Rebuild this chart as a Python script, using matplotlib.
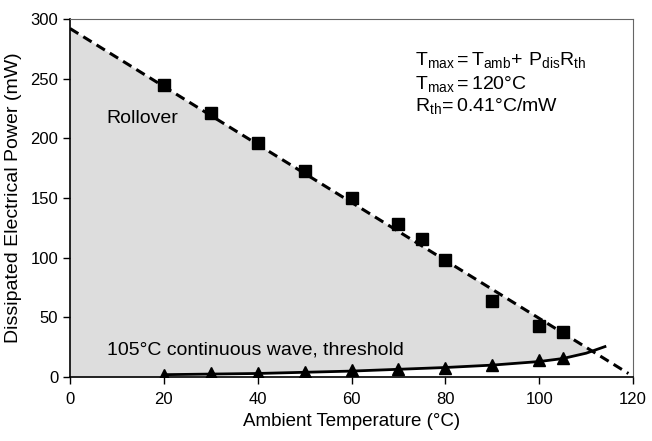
import numpy as np
import matplotlib
matplotlib.use("Agg")
import matplotlib.pyplot as plt

plt.rcParams['font.family'] = ['Liberation Sans', 'DejaVu Sans']
plt.rcParams['mathtext.fontset'] = 'custom'
plt.rcParams['mathtext.rm'] = 'Liberation Sans'
plt.rcParams['mathtext.it'] = 'Liberation Sans'

# Rollover points (squares)
roll_temp = [20, 30, 40, 50, 60, 70, 75, 80, 90, 100, 105]
roll_power = [245, 221, 196, 173, 150, 128, 116, 98, 64, 43, 38]

# Threshold points (triangles)
thr_temp = [20, 30, 40, 50, 60, 70, 80, 90, 100, 105]
thr_power = [2, 3, 3, 4, 6, 7, 8, 10, 14, 16]

# Threshold fitted curve
curve_temp = [20, 30, 40, 50, 60, 70, 80, 90, 100, 105, 110, 114]
curve_power = [2, 2.5, 3, 4, 5, 6.5, 8, 10, 13, 15.5, 20, 25.5]

# Rollover limit line (Tmax = Tamb + Pdis*Rth)
limit_temp = [0, 119]
limit_power = [292, 3]

x_ticks = [0, 20, 40, 60, 80, 100, 120]
y_ticks = [0, 50, 100, 150, 200, 250, 300]

fig = plt.figure(figsize=(6.52, 4.41), dpi=100)
ax = fig.add_axes([0.1074, 0.145, 0.8636, 0.812])

# gray region between limit line and threshold curve
xs = np.linspace(limit_temp[0], limit_temp[-1], 600)
upper = np.interp(xs, limit_temp, limit_power)
lower = np.interp(xs, curve_temp, curve_power, left=0)
ax.fill_between(xs, lower, upper, where=upper >= lower, interpolate=True,
                color='#dddddd', lw=0, zorder=1)

ln, = ax.plot(limit_temp, limit_power, color='black', lw=2.2, zorder=3)
ln.set_dashes((3.2, 1.9))
ax.plot(curve_temp, curve_power, color='black', lw=2.0, zorder=3)
ax.plot(roll_temp, roll_power, 's', color='black', ms=8, zorder=4)
ax.plot(thr_temp, thr_power, '^', color='black', ms=8.5, zorder=4)

ax.set_xlim(0, 120)
ax.set_ylim(0, 300)
ax.set_xticks(x_ticks)
ax.set_yticks(y_ticks)
ax.tick_params(axis='both', direction='out', length=5, width=1, labelsize=12,
               colors='black')
ax.tick_params(axis='x', pad=6)
for s in ['top', 'right']:
    ax.spines[s].set_color('#666666')
    ax.spines[s].set_linewidth(0.8)
for s in ['left', 'bottom']:
    ax.spines[s].set_color('black')
    ax.spines[s].set_linewidth(1.2)

ax.set_xlabel('Ambient Temperature (°C)', fontsize=13.5, labelpad=4)
ax.set_ylabel('Dissipated Electrical Power (mW)', fontsize=14, labelpad=6)

ax.text(7.7, 213, 'Rollover', fontsize=14, ha='left', va='baseline', zorder=5)
ax.text(7.8, 19.3, '105°C continuous wave, threshold', fontsize=14,
        ha='left', va='baseline', zorder=5)

eq_lines = [r'$\mathregular{T_{max} = T_{amb}\!+\, P_{dis}R_{th}}$',
            r'$\mathregular{T_{max} = 120°C}$',
            r'$\mathregular{R_{th}\!= 0.41°C/mW}$']
eq_y = [261.5, 241.4, 223]
for s, y in zip(eq_lines, eq_y):
    ax.text(73.6, y, s, fontsize=14, ha='left', va='baseline', zorder=5)

fig.savefig('out.png', dpi=100)
